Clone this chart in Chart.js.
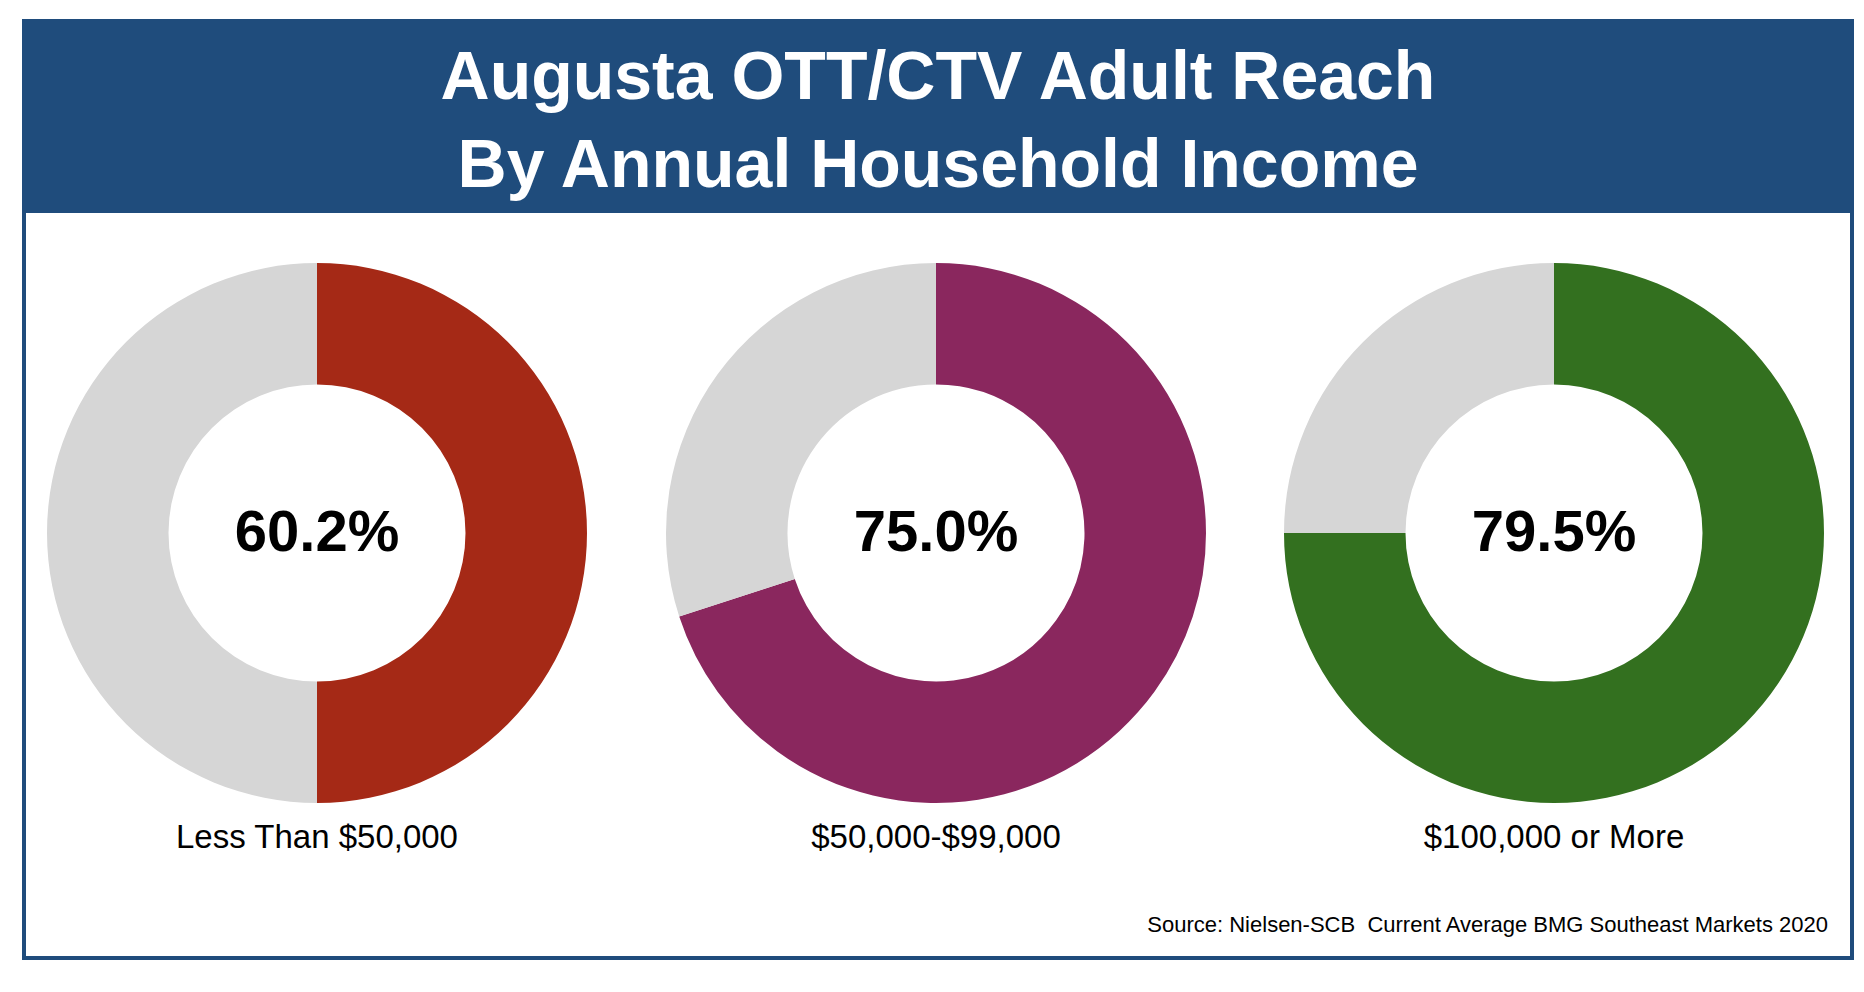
<!DOCTYPE html>
<html>
<head>
<meta charset="utf-8">
<script src="https://cdn.jsdelivr.net/npm/chart.js@4"></script>
<style>
  body { margin: 0; background: #fff; font-family: "Liberation Sans", Arial, sans-serif; }
  #frame { position: absolute; left: 22px; top: 19px; width: 1824px; height: 933px; border: 4px solid #1f4c7c; }
  #header { position: absolute; left: 0; top: 0; width: 100%; height: 190px; background: #1f4c7c; color: #fff;
            font-weight: bold; font-size: 68px; text-align: center; line-height: 88px; padding-top: 8px; box-sizing: border-box; }
  .donut { position: absolute; width: 544px; height: 544px; }
  .center { position: absolute; width: 400px; text-align: center; font-weight: bold; font-size: 58px; color: #000; }
  .cat { position: absolute; width: 500px; text-align: center; font-size: 33px; color: #000; }
  #source { position: absolute; right: 22px; top: 889px; font-size: 22px; color: #000; }
</style>
</head>
<body>
<div id="frame">
  <div id="header">Augusta OTT/CTV Adult Reach<br>By Annual Household Income</div>
  <div id="source">Source: Nielsen-SCB&nbsp; Current Average BMG Southeast Markets 2020</div>
</div>
<script>
const categories = ['Less Than $50,000', '$50,000-$99,000', '$100,000 or More'];
const centerLabels = ['60.2%', '75.0%', '79.5%'];
// arc share as drawn in the picture
const arcValues = [50, 70, 75];
const colors = ['#a52916', '#8a275e', '#33701f'];
const restColor = '#d6d6d6';

const centersX = [317, 936, 1554];
const centerY = 533;
const frame = document.getElementById('frame');

categories.forEach((cat, i) => {
    const box = document.createElement('div');
    box.className = 'donut';
    box.style.left = (centersX[i] - 272 - 26) + 'px';
    box.style.top = (centerY - 272 - 23) + 'px';
    box.innerHTML = '<canvas></canvas>';
    frame.appendChild(box);

    new Chart(box.querySelector('canvas'), {
        type: 'doughnut',
        data: {
            labels: [cat, 'Rest'],
            datasets: [{
                data: [arcValues[i], 100 - arcValues[i]],
                backgroundColor: [colors[i], restColor],
                borderWidth: 0
            }]
        },
        options: {
            responsive: true,
            maintainAspectRatio: false,
            animation: false,
            cutout: '55%',
            layout: { padding: 2 },
            plugins: { legend: { display: false }, tooltip: { enabled: false } }
        }
    });

    const c = document.createElement('div');
    c.className = 'center';
    c.style.left = (centersX[i] - 200 - 26) + 'px';
    c.style.top = (centerY - 36 - 23) + 'px';
    c.textContent = centerLabels[i];
    frame.appendChild(c);

    const l = document.createElement('div');
    l.className = 'cat';
    l.style.left = (centersX[i] - 250 - 26) + 'px';
    l.style.top = (838 - 20 - 23) + 'px';
    l.textContent = cat;
    frame.appendChild(l);
});
</script>
</body>
</html>
